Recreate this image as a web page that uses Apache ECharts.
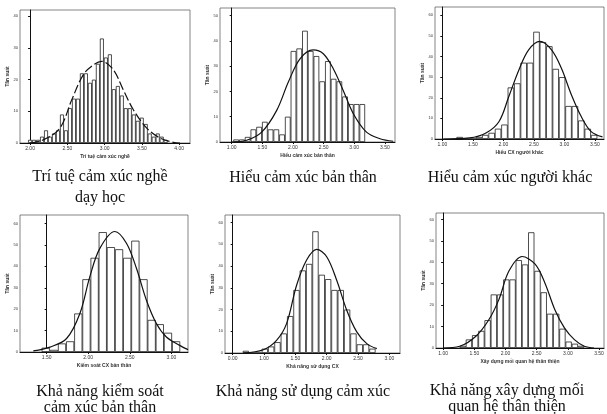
<!DOCTYPE html>
<html><head><meta charset="utf-8">
<script src="https://cdn.jsdelivr.net/npm/echarts@6/dist/echarts.min.js"></script>
<style>html,body{margin:0;padding:0;background:#fff}#c{width:607px;height:414px}</style>
</head><body><div id="c"></div>
<script>
// ---- Data ----
const titles = [
  ['Trí tuệ cảm xúc nghề', 'dạy học'],
  ['Hiểu cảm xúc bản thân'],
  ['Hiểu cảm xúc người khác'],
  ['Khả năng kiểm soát', 'cảm xúc bản thân'],
  ['Khả năng sử dụng cảm xúc'],
  ['Khả năng xây dựng mối', 'quan hệ thân thiện']
];
const xNames = ['Trí tuệ cảm xúc nghề', 'Hiểu cảm xúc bản thân', 'Hiểu CX người khác',
  'Kiểm soát CX bản thân', 'Khả năng sử dụng CX', 'Xây dựng mối quan hệ thân thiện'];
const yName = 'Tần suất';

const xTicks1 = ['2.00', '2.50', '3.00', '3.50', '4.00'];
const xTicks2 = ['1.00', '1.50', '2.00', '2.50', '3.00', '3.50'];
const xTicks3 = ['1.00', '1.50', '2.00', '2.50', '3.00', '3.50'];
const xTicks4 = ['1.50', '2.00', '2.50', '3.00'];
const xTicks5 = ['0.00', '1.00', '1.50', '2.00', '2.50', '3.00'];
const xTicks6 = ['1.00', '1.50', '2.00', '2.50', '3.00', '3.50'];

const yTicks1 = [0, 10, 20, 30, 40];
const yTicks2 = [0, 10, 20, 30, 40, 50];
const yTicks3 = [0, 10, 20, 30, 40, 50, 60];
const yTicks4 = [0, 10, 20, 30, 40, 50, 60];
const yTicks5 = [0, 10, 20, 30, 40, 50, 60];
const yTicks6 = [0, 10, 20, 30, 40, 50, 60];

// first bin centre and bin width, in tick units
const binStart = [0.0, 0.148, 0.567, -0.022, 0.42, 0.626];
const binWidth = [0.107, 0.187, 0.21, 0.196, 0.202, 0.2];

const counts1 = [1,1,1,2,4,2,3,4,9,4,11,14,14,22,22,19,20,25,33,27,28,17,18,15,11,11,9,7,8,6,3,2,3,2,1];
const counts2 = [1,1,2,5,6,8,5,5,3,10,36,37,44,36,34,24,32,25,24,18,15,15,15];
const counts3 = [1,0,0,1,2,3,5,7,25,27,37,37,52,47,45,34,30,16,16,9,5,2];
const counts4 = [2,1,4,5,18,34,44,56,49,48,44,52,34,15,13,9,5];
const counts5 = [1,0,0,2,3,5,9,17,29,38,41,56,36,34,29,29,20,9,4,4,2];
const counts6 = [1,4,6,8,13,25,25,32,32,41,39,54,36,26,16,16,9,3,2,1];

// fitted normal curves (x in tick units, y in counts)
const curve1 = [[0,0],[0.36,1],[0.80,4.7],[1.12,13.7],[1.43,21.6],[1.70,24.7],[1.92,25.8],[2.23,23.2],[2.50,16.8],[2.77,10.5],[3.13,4.7],[3.48,1.6],[3.84,0.2],[4.02,0]];
const curve2 = [[0,0],[0.49,0.7],[0.98,3.9],[1.47,12.5],[1.85,23.7],[2.23,32.9],[2.66,36.4],[2.99,34.9],[3.32,28.9],[3.64,20.4],[3.97,11.2],[4.40,3.9],[4.84,1.3],[5.27,0.3]];
const curve3 = [[0.03,0],[0.89,0.5],[1.43,2.9],[1.86,8.5],[2.18,20.6],[2.51,33.5],[2.83,43.2],[3.20,47.3],[3.58,43.2],[3.90,34.4],[4.23,21.5],[4.55,11.0],[4.87,3.7],[5.25,1.0]];
const curve4 = [[-0.32,0.5],[0.08,2.3],[0.48,6.3],[0.80,18.0],[1.04,35.2],[1.28,48.4],[1.64,56.3],[1.92,50.8],[2.16,39.1],[2.40,24.2],[2.64,13.3],[2.88,7.0],[3.20,3.1],[3.40,1.1]];
const curve5 = [[0.34,0],[0.98,1.5],[1.40,5.8],[1.72,13.5],[2.04,31.2],[2.36,42.8],[2.68,47.7],[3.00,44.3],[3.32,33.5],[3.64,19.7],[3.96,9.7],[4.28,4.3],[4.60,2.0]];
const curve6 = [[0,0],[0.53,0.8],[1.05,5.5],[1.47,13.3],[1.79,22.7],[2.11,35.9],[2.53,42.7],[2.95,39.1],[3.26,30.5],[3.58,18.0],[3.89,9.4],[4.21,3.9],[4.53,0.8],[4.84,0]];

// ---- Layout ----
const grids = [
  {left: 20, right: 417, top: 10, bottom: 271},
  {left: 220, right: 212, top: 8, bottom: 272},
  {left: 435, right: 3, top: 7, bottom: 275},
  {left: 20, right: 419, top: 215, bottom: 62},
  {left: 225, right: 207, top: 215, bottom: 61},
  {left: 436, right: 3, top: 213, bottom: 66}
];
const xRange = [[-0.27, 4.29], [-0.38, 5.33], [-0.24, 5.3], [-0.64, 3.4], [-0.245, 5.34], [-0.23, 5.16]];
const yMax = [42, 53, 64, 64, 63.5, 63];
const barPx = [4, 5.7, 6.5, 8.2, 6.3, 6.3];
// centre of each title line: x, first-line y, line step
const titlePos = [[100, 177, 21], [303, 178, 0], [510, 178, 0], [100, 392, 16], [303, 392, 0], [507, 391, 16]];

const xTicks = [xTicks1, xTicks2, xTicks3, xTicks4, xTicks5, xTicks6];
const yTicks = [yTicks1, yTicks2, yTicks3, yTicks4, yTicks5, yTicks6];
const counts = [counts1, counts2, counts3, counts4, counts5, counts6];
const curves = [curve1, curve2, curve3, curve4, curve5, curve6];

const tiny = {fontSize: 5, color: '#333', fontFamily: 'Liberation Sans'};
const option = {
  backgroundColor: '#fff',
  animation: false,
  grid: [], xAxis: [], yAxis: [], series: [], graphic: []
};
for (let i = 0; i < 6; i++) {
  option.grid.push(Object.assign({show: true, borderColor: '#666', borderWidth: 0.8, backgroundColor: '#fff'}, grids[i]));
  const labs = xTicks[i];
  const idx = labs.map((_, k) => k);
  option.xAxis.push({
    type: 'value', gridIndex: i, min: xRange[i][0], max: xRange[i][1],
    name: xNames[i], nameLocation: 'middle', nameGap: 11,
    nameTextStyle: Object.assign({}, tiny, {fontWeight: 'bold'}),
    axisLine: {onZero: false, lineStyle: {color: '#111', width: 1}},
    axisTick: {customValues: idx, length: 2, lineStyle: {color: '#111'}},
    axisLabel: {customValues: idx, formatter: v => labs[Math.round(v)], margin: 3, ...tiny},
    splitLine: {show: false}
  });
  option.yAxis.push({
    type: 'value', gridIndex: i, min: 0, max: yMax[i],
    name: yName, nameLocation: 'middle', nameGap: 9,
    nameTextStyle: Object.assign({}, tiny, {fontWeight: 'bold'}),
    axisLine: {show: true, lineStyle: {color: '#111', width: 1}},
    axisTick: {customValues: yTicks[i], length: 2, lineStyle: {color: '#111'}},
    axisLabel: {customValues: yTicks[i], margin: 2, ...tiny, fontSize: 4},
    splitLine: {show: false}
  });
  option.series.push({
    type: 'bar', xAxisIndex: i, yAxisIndex: i, barWidth: barPx[i],
    data: counts[i].map((c, k) => [binStart[i] + k * binWidth[i], c]),
    itemStyle: {color: '#fff', borderColor: '#222', borderWidth: 0.8},
    silent: true
  });
  option.series.push({
    type: 'line', xAxisIndex: i, yAxisIndex: i, smooth: 0.35, symbol: 'none',
    data: curves[i], z: 5,
    lineStyle: {color: '#111', width: 1.2, type: i === 0 ? [9, 3] : 'solid'}
  });
  titles[i].forEach((t, k) => {
    option.graphic.push({
      type: 'text', x: titlePos[i][0], y: titlePos[i][1] + k * titlePos[i][2],
      style: {text: t, fill: '#111', font: '16px "Liberation Serif"', textAlign: 'center', textVerticalAlign: 'middle'}
    });
  });
}
const chart = echarts.init(document.getElementById('c'));
chart.setOption(option);
</script></body></html>
